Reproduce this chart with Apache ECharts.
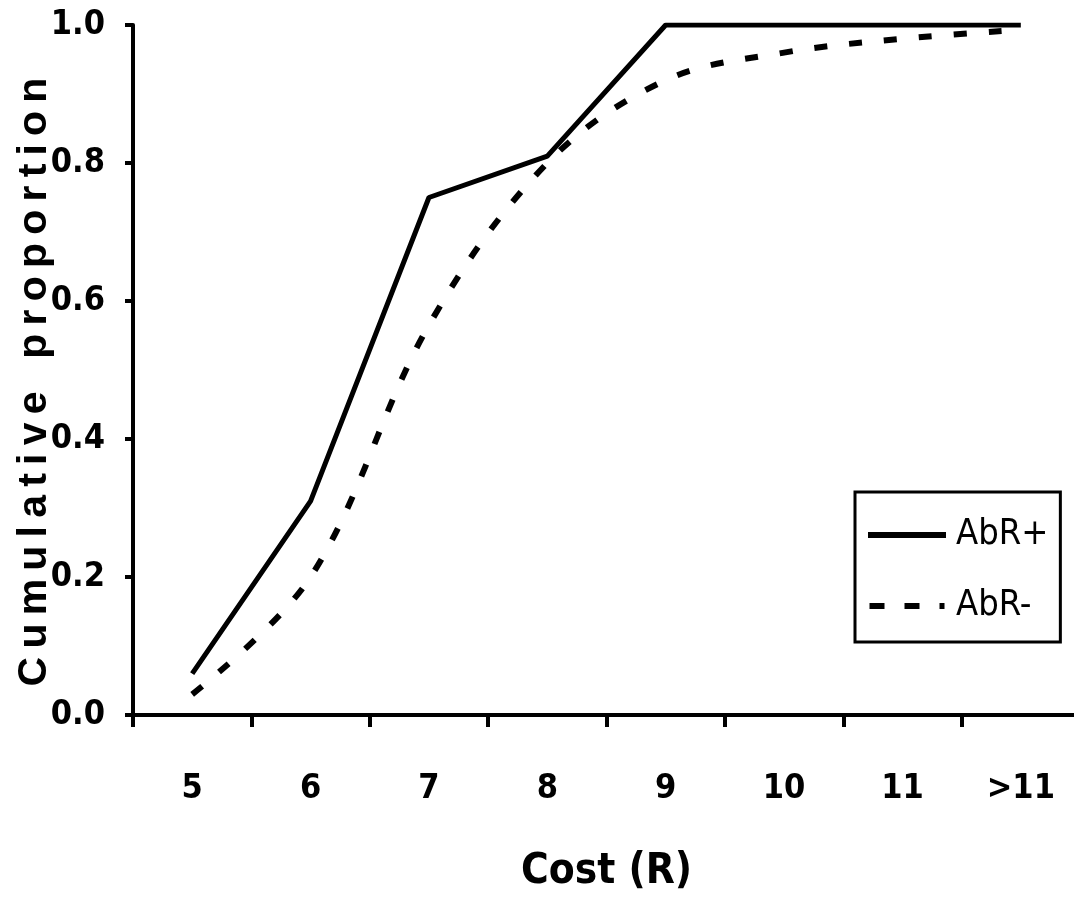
<!DOCTYPE html>
<html><head><meta charset="utf-8">
<script src="https://cdn.jsdelivr.net/npm/echarts@6/dist/echarts.min.js"></script>
<style>html,body{margin:0;padding:0;background:#fff}#c{width:1074px;height:905px}</style>
</head><body><div id="c"></div>
<script>
const categories = ['5','6','7','8','9','10','11','>11'];
const abrPlus = [0.06, 0.31, 0.75, 0.81, 1.0, 1.0, 1.0, 1.0];
const abrMinus = [0.03, 0.20, 0.565, 0.80, 0.92, 0.96, 0.98, 0.993];
const yTicks = { min: 0, max: 1, interval: 0.2 };
const yTitle = 'Cumulative proportion';
const xTitle = 'Cost (R)';
const seriesNames = ['AbR+', 'AbR-'];
const NARROW = '"Liberation Sans Narrow", "DejaVu Sans Condensed", "Liberation Sans", sans-serif';

// spaced letters for the vertical title (thin spaces between letters)
const spacedTitle = yTitle.split(' ').map(w => w.split('').join('\u2009')).join('\u2009\u2009\u2009\u2009');

// legend sample glyphs: a solid bar and a dashed bar
const ICON_SOLID = 'path://M0,0H78V6H0Z';
const ICON_DASH = 'path://M2,0H17V6H2Z M37,0H52V6H37Z M72,0H77V6H72Z';

const chart = echarts.init(document.getElementById('c'), null, {renderer:'canvas'});
chart.setOption({
  animation: false,
  backgroundColor: '#fff',
  grid: { left: 133, top: 25, width: 947, bottom: 190, containLabel: false, outerBoundsMode: 'none' },
  legend: {
    orient: 'vertical', left: 855, top: 492,
    data: [
      { name: seriesNames[0], icon: ICON_SOLID },
      { name: seriesNames[1], icon: ICON_DASH }
    ],
    itemWidth: 78, itemHeight: 6, itemGap: 35,
    padding: [25, 12, 18, 13],
    borderColor: '#000', borderWidth: 3, borderRadius: 0,
    itemStyle: { color: '#000', borderWidth: 0 },
    textStyle: { fontFamily: NARROW, fontSize: 36, color: '#000', padding: [0, 0, 0, 5] }
  },
  xAxis: {
    type: 'category', data: categories, boundaryGap: true,
    name: xTitle, nameLocation: 'middle', nameGap: 136, nameMoveOverlap: false,
    nameTextStyle: { fontFamily: NARROW, fontWeight: 'bold', fontSize: 42, color: '#000' },
    axisLine: { lineStyle: { color: '#000', width: 4 } },
    axisTick: { show: true, length: 12, lineStyle: { color: '#000', width: 4 } },
    axisLabel: { margin: 57, fontFamily: NARROW, fontWeight: 'bold', fontSize: 34, color: '#000' },
    splitLine: { show: false }
  },
  yAxis: {
    type: 'value', min: yTicks.min, max: yTicks.max, interval: yTicks.interval,
    name: spacedTitle, nameLocation: 'middle', nameGap: 78, nameRotate: 90, nameMoveOverlap: false,
    nameTextStyle: { fontFamily: '"Liberation Sans", Arial, sans-serif', fontWeight: 'bold', fontSize: 41, color: '#000',
      padding: [0, 24, 0, 0] },
    axisLine: { show: true, lineStyle: { color: '#000', width: 4 } },
    axisTick: { show: true, length: 8, lineStyle: { color: '#000', width: 4 } },
    axisLabel: { margin: 28, fontFamily: NARROW, fontWeight: 'bold', fontSize: 34, color: '#000',
      formatter: v => v.toFixed(1) },
    splitLine: { show: false }
  },
  series: [
    { name: seriesNames[0], type: 'line', data: abrPlus, showSymbol: false, symbol: 'none',
      lineStyle: { color: '#000', width: 5 }, itemStyle: { color: '#000' } },
    { name: seriesNames[1], type: 'line', data: abrMinus, showSymbol: false, symbol: 'none', smooth: 0.35,
      lineStyle: { color: '#000', width: 6, type: [13, 22], cap: 'butt' }, itemStyle: { color: '#000' } }
  ]
});
</script></body></html>
